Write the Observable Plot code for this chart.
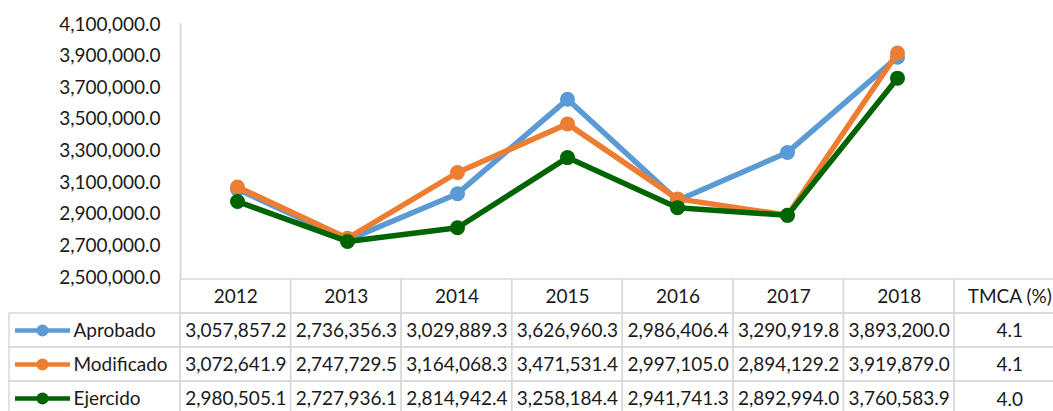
<!DOCTYPE html>
<html><head><meta charset="utf-8">
<script src="https://cdn.jsdelivr.net/npm/d3@7"></script>
<script src="https://cdn.jsdelivr.net/npm/@observablehq/plot@0.6"></script>
<style>
html,body{margin:0;padding:0;background:#fff;}
#chart svg{display:block;}
</style></head><body><div id="chart"></div>
<script>
// ---- data ----
const years = [2012, 2013, 2014, 2015, 2016, 2017, 2018];
const seriesNames = ["Aprobado", "Modificado", "Ejercido"];
const aprobado   = [3057857.2, 2736356.3, 3029889.3, 3626960.3, 2986406.4, 3290919.8, 3893200.0];
const modificado = [3072641.9, 2747729.5, 3164068.3, 3471531.4, 2997105.0, 2894129.2, 3919879.0];
const ejercido   = [2980505.1, 2727936.1, 2814942.4, 3258184.4, 2941741.3, 2892994.0, 3760583.9];
const tmca = [4.1, 4.1, 4.0];
const tmcaLabel = "TMCA (%)";
const yTicks = [2500000, 2700000, 2900000, 3100000, 3300000, 3500000, 3700000, 3900000, 4100000];
const colors = ["#5b9bd5", "#ed7d31", "#006400"];

// ---- layout ----
const values = [aprobado, modificado, ejercido];
const cols = [...years.map(String), tmcaLabel];
const left = 180, colW = 110.57;
const xRange = [left, left + cols.length * colW];
const fmt = d3.format(",.1f");
const grid = "#d9d9d9";
const font = "Lato, 'Open Sans', sans-serif";
const ink = "#1a1a1a";

const data = seriesNames.flatMap((s, i) => values[i].map((v, j) => ({series: s, year: String(years[j]), value: v})));

const seriesMarks = seriesNames.flatMap((s, i) => {
  const d = data.filter(r => r.series === s);
  return [
    Plot.line(d, {x: "year", y: "value", stroke: colors[i], strokeWidth: 5.5, strokeLinejoin: "round"}),
    Plot.dot(d, {x: "year", y: "value", r: 7.5, fill: colors[i], stroke: "none"})
  ];
});

const chart = Plot.plot({
  width: 1053, height: 278,
  marginLeft: left, marginRight: 0, marginTop: 24, marginBottom: 1,
  style: {fontFamily: font, fontSize: "19px", color: ink, background: "#fff", overflow: "visible"},
  x: {type: "band", domain: cols, range: xRange, padding: 0, axis: null},
  y: {domain: [2500000, 4100000], range: [277, 24]},
  marks: [
    Plot.axisY({ticks: yTicks, tickFormat: fmt, tickSize: 0, tickPadding: 20, label: null, fontSize: 19, fill: ink}),
    Plot.frame({anchor: "left", stroke: grid, strokeWidth: 2}),
    ...seriesMarks
  ]
});

// ---- table ----
const rows = ["header", ...seriesNames];
const px = p => (p - left) / colW; // pixel -> column units
const cells = [];
cols.forEach((c, i) => rows.forEach(r => cells.push({row: r, x1: i, x2: i + 1})));
seriesNames.forEach(r => cells.push({row: r, x1: px(9), x2: 0}));

const valueTexts = [];
seriesNames.forEach((s, i) => {
  values[i].forEach((v, j) => valueTexts.push({row: s, x: j + 0.5, text: fmt(v), low: false}));
  valueTexts.push({row: s, x: years.length + 0.5, text: tmca[i].toFixed(1), low: i === 2});
});

const legend = seriesNames.map((s, i) => ({row: s, color: colors[i]}));

const table = Plot.plot({
  width: 1053, height: 133,
  marginLeft: 0, marginRight: 0, marginTop: 0, marginBottom: 0,
  style: {fontFamily: font, fontSize: "19px", color: ink, background: "#fff"},
  x: {domain: [0, cols.length], range: xRange, axis: null},
  y: {type: "band", domain: rows, range: [0, 138], padding: 0, axis: null},
  marks: [
    Plot.barX(cells, {x1: "x1", x2: "x2", y: "row", fill: "none", stroke: grid, strokeWidth: 1.5}),
    Plot.text(cols, {x: (d, i) => i + 0.5, y: () => "header", text: d => d, fill: ink, fontSize: 19}),
    Plot.text(valueTexts.filter(d => !d.low), {x: "x", y: "row", text: "text", fill: ink, fontSize: 19}),
    Plot.text(valueTexts.filter(d => d.low), {x: "x", y: "row", text: "text", fill: ink, fontSize: 19, dy: 1.5}),
    Plot.ruleY(legend, {y: "row", x1: px(15), x2: px(70), stroke: "color", strokeWidth: 4.5}),
    Plot.dot(legend, {y: "row", x: px(42), r: 6, fill: "color"}),
    Plot.text(legend, {y: "row", x: px(73), text: "row", textAnchor: "start", fill: ink, fontSize: 19})
  ]
});

const root = document.getElementById("chart");
root.append(chart, table);
</script>
</body></html>
